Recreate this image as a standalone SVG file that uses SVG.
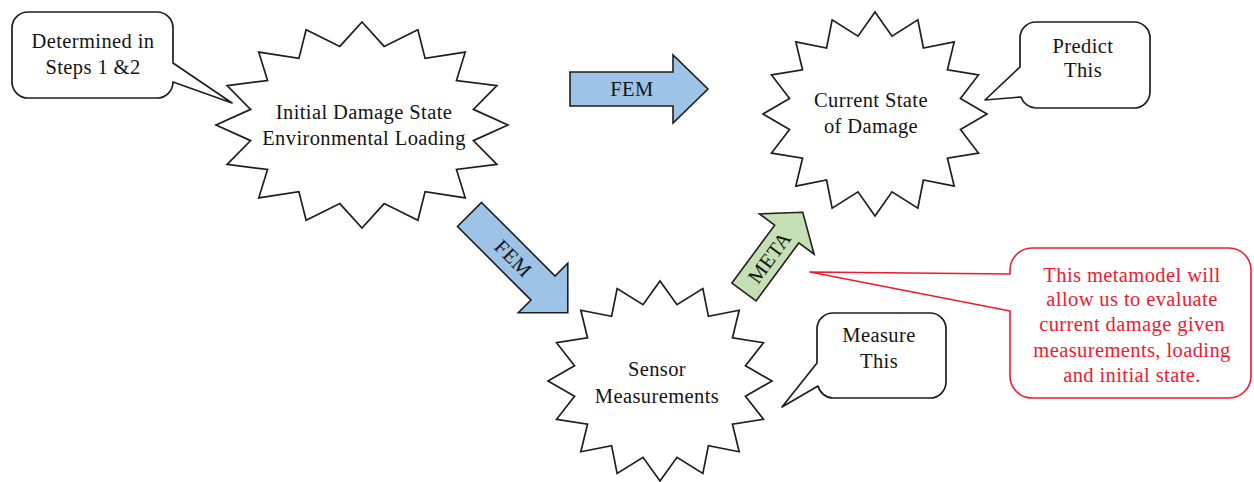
<svg xmlns="http://www.w3.org/2000/svg" xmlns:xlink="http://www.w3.org/1999/xlink" width="1254" height="482" viewBox="0 0 1254 482">
  <style>
    .bg { fill: #ffffff; }
    .star { fill: #ffffff; stroke: #1e1e1e; stroke-width: 1.7; stroke-linejoin: miter; }
    .callout { fill: #ffffff; stroke: #1e1e1e; stroke-width: 1.7; stroke-linejoin: round; }
    .note { fill: #ffffff; stroke: #ee1a30; stroke-width: 1.6; stroke-linejoin: round; }
    .blue { fill: #9dc3e6; stroke: #1e1e1e; stroke-width: 1.6; stroke-linejoin: miter; }
    .green { fill: #c5e0b4; stroke: #1e1e1e; stroke-width: 1.6; stroke-linejoin: miter; }
    text { font-family: "Liberation Serif", "Times New Roman", serif; font-size: 20.5px; letter-spacing: 0.4px; fill: #141414; text-anchor: middle; }
    text.red { fill: #ee1a30; }
  </style>
  <defs>
    <!-- unit 16-point star, scaled per node; stroke kept constant -->
    <polygon id="star16" vector-effect="non-scaling-stroke" points="1,0 0.7630,0.1518 0.92388,0.38268 0.6469,0.4322 0.70711,0.70711 0.4322,0.6469 0.38268,0.92388 0.1518,0.7630 0,1 -0.1518,0.7630 -0.38268,0.92388 -0.4322,0.6469 -0.70711,0.70711 -0.6469,0.4322 -0.92388,0.38268 -0.7630,0.1518 -1,0 -0.7630,-0.1518 -0.92388,-0.38268 -0.6469,-0.4322 -0.70711,-0.70711 -0.4322,-0.6469 -0.38268,-0.92388 -0.1518,-0.7630 0,-1 0.1518,-0.7630 0.38268,-0.92388 0.4322,-0.6469 0.70711,-0.70711 0.6469,-0.4322 0.92388,-0.38268 0.7630,-0.1518"/>
  </defs>

  <rect class="bg" x="0" y="0" width="1254" height="482"/>

  <!-- block arrows between the states -->
  <g id="connectors">
    <g id="fem-top">
      <path class="blue" d="M570,72 L673,72 L673,55 L708,89 L673,123 L673,106 L570,106 Z"/>
      <text x="632" y="96">FEM</text>
    </g>
    <g id="fem-diag" transform="translate(469.5,214.5) rotate(45)">
      <path class="blue" d="M0,-17 L104,-17 L104,-35 L139,0 L104,35 L104,17 L0,17 Z"/>
      <text x="62" y="7">FEM</text>
    </g>
    <g id="meta" transform="translate(744,292) rotate(-53.6)">
      <path class="green" d="M0,-15 L72,-15 L72,-34 L99,0 L72,34 L72,15 L0,15 Z"/>
      <text x="43" y="7">META</text>
    </g>
  </g>

  <g id="initial-state">
    <use xlink:href="#star16" class="star" transform="translate(362,125) scale(146,103)"/>
    <text x="364" y="119">Initial Damage State</text>
    <text x="364" y="145">Environmental Loading</text>
  </g>

  <g id="current-state">
    <use xlink:href="#star16" class="star" transform="translate(875,114) scale(112,102)"/>
    <text x="871" y="107">Current State</text>
    <text x="871" y="133">of Damage</text>
  </g>

  <g id="sensor-measurements">
    <use xlink:href="#star16" class="star" transform="translate(660,381) scale(112,100)"/>
    <text x="657" y="376">Sensor</text>
    <text x="657" y="403">Measurements</text>
  </g>

  <g id="callout-determined">
    <path class="callout" d="M28,12 H157 A16,16 0 0 1 173,28 V63 L232,103 L173,82 A16,16 0 0 1 157,98 H28 A16,16 0 0 1 12,82 V28 A16,16 0 0 1 28,12 Z"/>
    <text x="93" y="48">Determined in</text>
    <text x="93" y="74">Steps 1 &amp;2</text>
  </g>

  <g id="callout-predict">
    <path class="callout" d="M1036,22 H1134 A16,16 0 0 1 1150,38 V92 A16,16 0 0 1 1134,108 H1036 A16,16 0 0 1 1021,97 L985,100 L1020,67 V38 A16,16 0 0 1 1036,22 Z"/>
    <text x="1083" y="53">Predict</text>
    <text x="1083" y="77">This</text>
  </g>

  <g id="callout-measure">
    <path class="callout" d="M833,313 H930 A16,16 0 0 1 946,329 V382 A16,16 0 0 1 930,398 H833 A16,16 0 0 1 818,386 L782,407 L817,363 V329 A16,16 0 0 1 833,313 Z"/>
    <text x="879" y="342">Measure</text>
    <text x="879" y="368">This</text>
  </g>

  <g id="callout-metamodel">
    <path class="note" d="M1032,248 H1229 A22,22 0 0 1 1251,270 V376 A22,22 0 0 1 1229,398 H1032 A22,22 0 0 1 1010,376 V311 L810,272 L1010,274 V270 A22,22 0 0 1 1032,248 Z"/>
    <text class="red" x="1132" y="282">This metamodel will</text>
    <text class="red" x="1132" y="306">allow us to evaluate</text>
    <text class="red" x="1132" y="331">current damage given</text>
    <text class="red" x="1132" y="357">measurements, loading</text>
    <text class="red" x="1132" y="382">and initial state.</text>
  </g>
</svg>
